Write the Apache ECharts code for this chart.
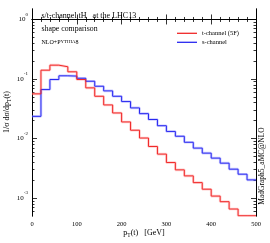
<!DOCTYPE html>
<html><head><meta charset="utf-8">
<script src="https://cdn.jsdelivr.net/npm/echarts@6/dist/echarts.min.js"></script>
<style>html,body{margin:0;padding:0;background:#fff}#c{width:270px;height:243px}</style>
</head><body><div id="c"></div>
<script>
// bin left edges (GeV), 20 GeV bins up to 500
const binEdges = [0,20,40,60,80,100,120,140,160,180,200,220,240,260,280,300,320,340,360,380,400,420,440,460,480];
const xMax = 500;
// normalised distributions 1/sigma dsigma/dpT
const tChannel = [0.0563,0.1407,0.1709,0.1606,0.1322,0.0981,0.0710,0.0513,0.0367,0.0269,0.0190,0.0138,0.0102,0.00736,0.00548,0.00395,0.00298,0.00236,0.00182,0.00141,0.00108,0.00087,0.000655,0.000505,0.000505];
const sChannel = [0.0236,0.0665,0.0981,0.1132,0.1120,0.1031,0.0918,0.0756,0.0632,0.0513,0.0418,0.0327,0.0262,0.0209,0.01643,0.01317,0.01093,0.00866,0.00691,0.00569,0.00469,0.00386,0.00306,0.00252,0.00202];
const seriesNames = ['t-channel (5F)', 's-channel'];
const yMinVal = 5e-4, yMaxVal = 1.5;
const yDecades = [0.001, 0.01, 0.1, 1];
const xTickInterval = 100;

const FONT = 'Liberation Serif';
const lg = v => Math.log10(v);
const yMin = lg(yMinVal), yMax = lg(yMaxVal);
const majorY = yDecades.map(lg);
const minorY = [];
for (let n = -4; n <= 0; n++) for (let k = 2; k <= 9; k++) {
  const L = lg(k * Math.pow(10, n));
  if (L > yMin && L < yMax) minorY.push(L);
}
function stepData(vals) {
  const d = binEdges.map((e, i) => [e, lg(vals[i])]);
  d.push([xMax, lg(vals[vals.length - 1])]);
  return d;
}
function yAx(pos, labels, ticks, len) {
  return {
    type: 'value', position: pos, min: yMin, max: yMax,
    axisLine: {show: true, lineStyle: {color: '#000', width: 1}},
    axisTick: {show: true, inside: true, length: len, customValues: ticks, lineStyle: {color: '#000', width: 0.8}},
    axisLabel: labels ? {
      show: true, customValues: majorY, margin: 4, padding: [0, 0, 4, 0],
      formatter: v => '{b|10}{s|' + Math.round(v) + '}',
      rich: {
        b: {fontFamily: FONT, fontSize: 7, color: '#000', lineHeight: 11, verticalAlign: 'bottom'},
        s: {fontFamily: FONT, fontSize: 5, color: '#000', verticalAlign: 'top'}
      }
    } : {show: false},
    splitLine: {show: false}, minorTick: {show: false}
  };
}
function xAx(pos, labels) {
  return {
    type: 'value', position: pos, min: 0, max: xMax, interval: xTickInterval,
    axisLine: {show: true, lineStyle: {color: '#000', width: 1}},
    axisTick: {show: true, inside: true, length: 5, lineStyle: {color: '#000', width: 0.8}},
    minorTick: {show: true, splitNumber: 5, length: 2.5, lineStyle: {color: '#000', width: 0.8}},
    axisLabel: labels ? {show: true, fontFamily: FONT, fontSize: 6.5, color: '#000', margin: 5} : {show: false},
    splitLine: {show: false}, minorSplitLine: {show: false}
  };
}
function line(name, vals, color, width, z) {
  return {
    name: name, type: 'line', step: 'end', data: stepData(vals), symbol: 'none', showSymbol: false,
    lineStyle: {color: color, width: width}, itemStyle: {color: color},
    xAxisIndex: 0, yAxisIndex: 0, z: z, silent: true, animation: false, clip: true
  };
}
const chart = echarts.init(document.getElementById('c'), null, {renderer: 'canvas'});
chart.setOption({
  animation: false,
  grid: {left: 32, right: 14, top: 9, bottom: 27},
  xAxis: [xAx('bottom', true), xAx('top', false)],
  yAxis: [yAx('left', true, majorY, 5), yAx('left', false, minorY, 2.5), yAx('right', false, majorY, 5), yAx('right', false, minorY, 2.5)],
  legend: {
    data: seriesNames, orient: 'vertical', left: 177, top: 29.3, padding: 0,
    icon: 'rect', itemWidth: 20, itemHeight: 1.3, itemGap: 1,
    textStyle: {fontFamily: FONT, fontSize: 6.5, color: '#000', lineHeight: 8}
  },
  series: [
    line('s-band', sChannel, 'rgba(130,130,255,0.4)', 2.6, 2),
    line('t-band', tChannel, 'rgba(255,130,130,0.4)', 2.6, 2),
    line(seriesNames[1], sChannel, '#2828f0', 1, 3),
    line(seriesNames[0], tChannel, '#f02828', 1, 4)
  ],
  graphic: [
    {type: 'text', x: 41.5, y: 15.5, style: {text: 's/t-channel tH   at the LHC13', font: '8px "Liberation Serif"', fill: '#000', verticalAlign: 'middle'}},
    {type: 'text', x: 41.5, y: 29, style: {text: 'shape comparison', font: '7.8px "Liberation Serif"', fill: '#000', verticalAlign: 'middle'}},
    {type: 'text', x: 41.5, y: 42, style: {text: '{a|NLO+P}{b|YTHIA}{a|8}', verticalAlign: 'middle',
      rich: {a: {fontFamily: FONT, fontSize: 6, fill: '#000', color: '#000'}, b: {fontFamily: FONT, fontSize: 4.8, fill: '#000', color: '#000'}}}},
    {type: 'text', x: 8, y: 112, rotation: Math.PI / 2, style: {text: '{a|1/σ dσ/dp}{s|T}{a|(t)}', align: 'center', verticalAlign: 'middle',
      rich: {a: {fontFamily: FONT, fontSize: 8, color: '#000', fill: '#000', lineHeight: 10, verticalAlign: 'top'}, s: {fontFamily: FONT, fontSize: 5.5, color: '#000', fill: '#000', lineHeight: 10, verticalAlign: 'bottom'}}}},
    {type: 'text', x: 144, y: 234, style: {text: '{a|p}{s|T}{a|(t)   [GeV]}', align: 'center', verticalAlign: 'middle',
      rich: {a: {fontFamily: FONT, fontSize: 8, color: '#000', fill: '#000', lineHeight: 10, verticalAlign: 'top'}, s: {fontFamily: FONT, fontSize: 5.5, color: '#000', fill: '#000', lineHeight: 10, verticalAlign: 'bottom'}}}},
    {type: 'text', x: 262.5, y: 166, rotation: Math.PI / 2, style: {text: 'MadGraph5_aMC@NLO', font: '7.5px "Liberation Serif"', fill: '#000', align: 'center', verticalAlign: 'middle'}}
  ]
});
</script></body></html>
